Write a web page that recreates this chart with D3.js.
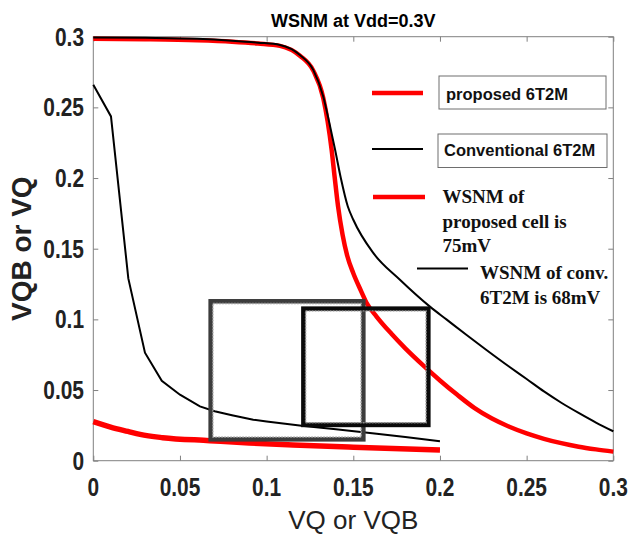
<!DOCTYPE html>
<html>
<head>
<meta charset="utf-8">
<script src="https://cdn.jsdelivr.net/npm/d3@7"></script>
<style>
  html, body { margin: 0; padding: 0; background: #fff; }
  svg { display: block; }
</style>
</head>
<body>
<svg id="chart" width="629" height="534"></svg>
<script>
// ---------- DATA ----------
const chartTitle = "WSNM at Vdd=0.3V";
const xLabel = "VQ or VQB";
const yLabel = "VQB or VQ";
const xTicks = [0, 0.05, 0.1, 0.15, 0.2, 0.25, 0.3];
const yTicks = [0, 0.05, 0.1, 0.15, 0.2, 0.25, 0.3];
const xTickLabels = ["0", "0.05", "0.1", "0.15", "0.2", "0.25", "0.3"];
const yTickLabels = ["0", "0.05", "0.1", "0.15", "0.2", "0.25", "0.3"];

// proposed 6T2M, upper branch (VQB vs VQ)
const proposedUpper = [
  [0, 0.2985], [0.03, 0.2982], [0.06, 0.2975], [0.08, 0.2965], [0.095, 0.2952],
  [0.1077, 0.2935], [0.1192, 0.2865], [0.1269, 0.276], [0.1327, 0.2565],
  [0.1352, 0.24], [0.1375, 0.22], [0.1393, 0.2], [0.1412, 0.18],
  [0.1438, 0.16], [0.1465, 0.145], [0.15, 0.1326], [0.1545, 0.12],
  [0.1577, 0.1116], [0.1634, 0.102], [0.172, 0.0898], [0.18, 0.0795],
  [0.19, 0.0678], [0.2, 0.0568], [0.21, 0.0466], [0.22, 0.0372],
  [0.23, 0.0298], [0.24, 0.024], [0.25, 0.0193], [0.26, 0.0155],
  [0.27, 0.0124], [0.28, 0.0099], [0.29, 0.008], [0.3, 0.0064]
];
// proposed 6T2M, lower branch
const proposedLower = [
  [0, 0.0276], [0.01, 0.0238], [0.02, 0.0207], [0.027, 0.0186], [0.04, 0.0163],
  [0.0673, 0.0142], [0.09, 0.0125], [0.1152, 0.0111], [0.15, 0.0095], [0.2, 0.0076]
];
// conventional 6T2M, upper branch
const conventionalUpper = [
  [0, 0.2995], [0.03, 0.2992], [0.06, 0.2985], [0.08, 0.2972], [0.095, 0.2958],
  [0.1077, 0.2942], [0.1192, 0.2871], [0.1269, 0.2765], [0.1327, 0.2575],
  [0.136, 0.24], [0.1395, 0.22], [0.1428, 0.2], [0.1468, 0.18],
  [0.15, 0.1705], [0.1615, 0.147], [0.1769, 0.128], [0.1942, 0.109],
  [0.2039, 0.0998], [0.215, 0.0893], [0.227, 0.0782], [0.24, 0.0665],
  [0.25, 0.0578], [0.26, 0.049], [0.27, 0.041], [0.28, 0.0338],
  [0.29, 0.027], [0.3, 0.0208]
];
// conventional 6T2M, lower branch
const conventionalLower = [
  [0, 0.266], [0.0102, 0.2436], [0.0202, 0.129], [0.0298, 0.0764],
  [0.0395, 0.0566], [0.05, 0.0467], [0.0615, 0.0384], [0.07, 0.035],
  [0.08, 0.0322], [0.0923, 0.029], [0.1, 0.0277], [0.1202, 0.0247],
  [0.14, 0.0222], [0.1635, 0.019], [0.18, 0.0167], [0.2, 0.0137]
];
// noise-margin squares: [xMin, xMax, yMin, yMax]
const squareProposed = [0.0677, 0.1558, 0.0151, 0.1128];
const squareConventional = [0.1212, 0.1933, 0.0253, 0.1076];

const legendBoxLabels = ["proposed 6T2M", "Conventional 6T2M"];
const noteProposed = ["WSNM of", "proposed cell is", "75mV"];
const noteConventional = ["WSNM of conv.", "6T2M is 68mV"];

// ---------- LAYOUT ----------
const svg = d3.select("#chart");
const L = 93.3, R = 613.3, T = 36.7, B = 460.7;
const x = d3.scaleLinear().domain([0, 0.3]).range([L, R]);
const y = d3.scaleLinear().domain([0, 0.3]).range([B, T]);
const axisColor = "#808080";
const textColor = "#222";
const sans = "'Liberation Sans', Arial, sans-serif";
const serif = "'Liberation Serif', 'Times New Roman', serif";

// frame
svg.append("rect").attr("x", L).attr("y", T).attr("width", R - L).attr("height", B - T)
  .attr("fill", "#fff").attr("stroke", axisColor).attr("stroke-width", 1);

// ticks (inward) on all sides
const tickLen = 5;
const mk = (ax) => ax.tickSizeInner(-tickLen).tickSizeOuter(0).tickFormat("");
function styleAxis(g) {
  g.select(".domain").remove();
  g.selectAll(".tick line").attr("stroke", axisColor);
}
svg.append("g").attr("transform", `translate(0,${B})`).call(mk(d3.axisBottom(x).tickValues(xTicks))).call(styleAxis);
svg.append("g").attr("transform", `translate(0,${T})`).call(mk(d3.axisTop(x).tickValues(xTicks))).call(styleAxis);
svg.append("g").attr("transform", `translate(${L},0)`).call(mk(d3.axisLeft(y).tickValues(yTicks))).call(styleAxis);
svg.append("g").attr("transform", `translate(${R},0)`).call(mk(d3.axisRight(y).tickValues(yTicks))).call(styleAxis);

// tick labels (bold, slightly condensed / tall)
svg.append("g").selectAll("text").data(xTicks).join("text")
  .attr("transform", d => `translate(${x(d)},496) scale(0.95,1.15)`)
  .attr("text-anchor", "middle").text((d, i) => xTickLabels[i])
  .attr("fill", textColor).style("font-family", sans).style("font-weight", "bold").style("font-size", "22px");
svg.append("g").selectAll("text").data(yTicks).join("text")
  .attr("transform", d => `translate(84,${y(d) + 9}) scale(0.95,1.15)`)
  .attr("text-anchor", "end").text((d, i) => yTickLabels[i])
  .attr("fill", textColor).style("font-family", sans).style("font-weight", "bold").style("font-size", "22px");

// curves
const smooth = d3.line().x(d => x(d[0])).y(d => y(d[1])).curve(d3.curveMonotoneX);
const straight = d3.line().x(d => x(d[0])).y(d => y(d[1]));

svg.append("path").datum(proposedUpper).attr("d", smooth)
  .attr("fill", "none").attr("stroke", "#ff0000").attr("stroke-width", 4.5);
svg.append("path").datum(proposedLower).attr("d", smooth)
  .attr("fill", "none").attr("stroke", "#ff0000").attr("stroke-width", 5.5);
svg.append("path").datum(conventionalUpper).attr("d", smooth)
  .attr("fill", "none").attr("stroke", "#000").attr("stroke-width", 2);
svg.append("path").datum(conventionalLower).attr("d", straight)
  .attr("fill", "none").attr("stroke", "#000").attr("stroke-width", 2);

// squares
function drawSquare(sq, outer, inner) {
  const g = svg.append("g");
  const x0 = x(sq[0]), x1 = x(sq[1]), y0 = y(sq[3]), y1 = y(sq[2]);
  g.append("rect").attr("x", x0).attr("y", y0).attr("width", x1 - x0).attr("height", y1 - y0)
    .attr("fill", "none").attr("stroke", outer).attr("stroke-width", 4.5);
  g.append("rect").attr("x", x0 + 2.2).attr("y", y0 + 2.2).attr("width", x1 - x0 - 4.4).attr("height", y1 - y0 - 4.4)
    .attr("fill", "none").attr("stroke", inner).attr("stroke-width", 1.4).attr("stroke-dasharray", "2,1");
}
drawSquare(squareProposed, "#3c3c3c", "#9a9a9a");
drawSquare(squareConventional, "#0a0a0a", "#8a8a8a");

// legend: sample lines + boxed labels
const legendRows = [
  { color: "#ff0000", w: 4.5, x1: 372, x2: 423, ly: 93, box: [439, 76, 167, 33], tx: 446, ty: 99.5 },
  { color: "#000", w: 2, x1: 372, x2: 423, ly: 149, box: [438, 134, 169, 33.5], tx: 444, ty: 156 }
];
legendRows.forEach((r, i) => {
  svg.append("line").attr("x1", r.x1).attr("x2", r.x2).attr("y1", r.ly).attr("y2", r.ly)
    .attr("stroke", r.color).attr("stroke-width", r.w);
  svg.append("rect").attr("x", r.box[0]).attr("y", r.box[1]).attr("width", r.box[2]).attr("height", r.box[3])
    .attr("fill", "#fff").attr("stroke", "#6e6e6e").attr("stroke-width", 1);
  svg.append("text").attr("x", r.tx).attr("y", r.ty).text(legendBoxLabels[i])
    .attr("fill", "#111").style("font-family", sans).style("font-weight", "bold").style("font-size", "16.5px");
});

// annotation notes
svg.append("line").attr("x1", 373).attr("x2", 425).attr("y1", 197).attr("y2", 197)
  .attr("stroke", "#ff0000").attr("stroke-width", 4.5);
const n1 = svg.append("text").attr("fill", "#111").style("font-family", serif)
  .style("font-weight", "bold").style("font-size", "19px");
noteProposed.forEach((s, i) => n1.append("tspan").attr("x", 442.5).attr("y", 203 + i * 24.5).text(s));

svg.append("line").attr("x1", 417).attr("x2", 468).attr("y1", 268.5).attr("y2", 268.5)
  .attr("stroke", "#000").attr("stroke-width", 2);
const n2 = svg.append("text").attr("fill", "#111").style("font-family", serif)
  .style("font-weight", "bold").style("font-size", "19px");
noteConventional.forEach((s, i) => n2.append("tspan").attr("x", 480).attr("y", 279 + i * 24.5).text(s));

// title and axis labels
svg.append("text").attr("x", (L + R) / 2).attr("y", 27).attr("text-anchor", "middle")
  .text(chartTitle).attr("fill", "#000").style("font-family", sans)
  .style("font-weight", "bold").style("font-size", "18px");
svg.append("text").attr("x", (L + R) / 2).attr("y", 529).attr("text-anchor", "middle")
  .text(xLabel).attr("fill", textColor).style("font-family", sans).style("font-size", "26px");
svg.append("text").attr("transform", `translate(31,${(T + B) / 2}) rotate(-90)`).attr("text-anchor", "middle")
  .text(yLabel).attr("fill", textColor).style("font-family", sans)
  .style("font-weight", "bold").style("font-size", "28px");
</script>
</body>
</html>
